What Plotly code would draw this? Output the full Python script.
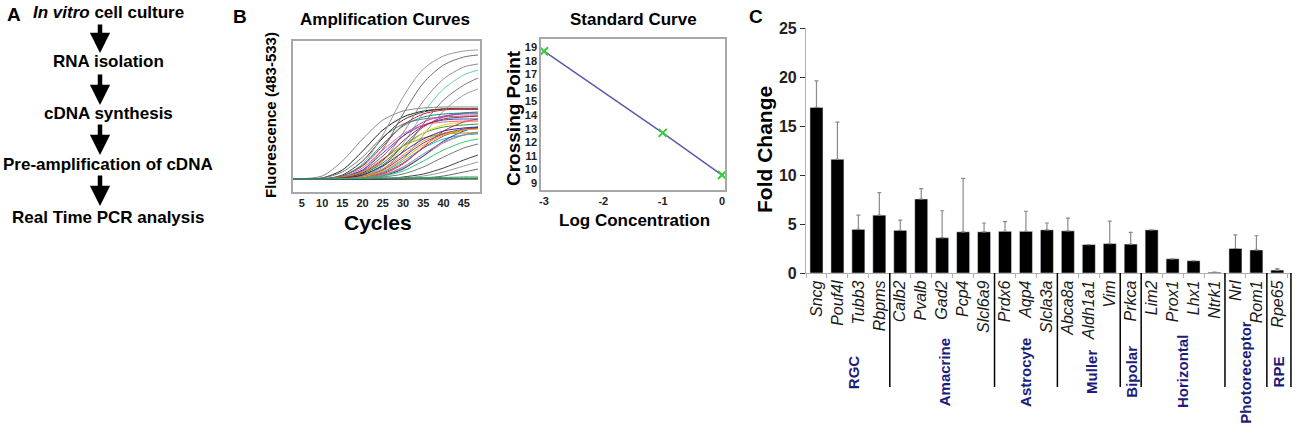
import plotly.graph_objects as go

W, H = 1300, 440
FONT = "Liberation Sans, Arial, sans-serif"
NAVY = "#1c1c7c"

# ---- panel A: workflow steps
steps = ["<i>In vitro</i> cell culture", "RNA isolation", "cDNA synthesis",
         "Pre-amplification of cDNA", "Real Time PCR analysis"]

# ---- panel B: amplification curves (fluorescence read at these cycles)
cycles = [3, 10, 15, 20, 25, 30, 35, 40, 45, 48.5]
amp_curves = [
    ("#8a8a8a", [0, 0.3, 1.8, 4.0, 5.9, 6.8, 7.1, 7.2, 7.2, 7.2]),
    ("#222222", [0, 0.1, 0.9, 2.8, 4.9, 6.2, 6.8, 7.0, 7.0, 7.0]),
    ("#777777", [0, 0.1, 0.7, 2.2, 4.2, 5.5, 6.0, 6.2, 6.3, 6.3]),
    ("#3a3a3a", [0, 0, 0.4, 1.8, 4.1, 5.9, 6.7, 7.0, 7.0, 7.0]),
    ("#999999", [0, 0, 0.3, 1.5, 4.4, 8.2, 11.0, 12.3, 12.8, 12.9]),
    ("#6f6f6f", [0, 0, 0.2, 0.9, 3.0, 6.5, 9.6, 11.4, 12.2, 12.4]),
    ("#8c8c8c", [0, 0, 0.1, 0.5, 1.8, 4.6, 7.8, 10.0, 11.2, 11.5]),
    ("#7a7a7a", [0, 0, 0, 0.3, 1.0, 2.8, 5.5, 7.9, 9.4, 10.1]),
    ("#9a9a9a", [0, 0, 0, 0.2, 0.7, 2.0, 4.4, 6.8, 8.4, 9.0]),
    ("#5fc9c9", [0, 0, 0, 0.3, 1.2, 3.5, 6.6, 9.0, 10.4, 10.9]),
    ("#d62728", [0, 0, 0.3, 1.3, 3.3, 5.4, 6.5, 6.9, 7.0, 7.0]),
    ("#cc33aa", [0, 0, 0.2, 0.8, 2.3, 4.3, 5.7, 6.3, 6.5, 6.5]),
    ("#3355cc", [0, 0, 0.2, 0.9, 2.6, 4.3, 5.4, 5.9, 6.0, 6.0]),
    ("#2ca02c", [0, 0, 0.1, 0.5, 1.6, 3.3, 4.6, 5.2, 5.4, 5.5]),
    ("#e6d619", [0, 0, 0.1, 0.4, 1.4, 3.0, 4.6, 5.4, 5.7, 5.8]),
    ("#ff8c1a", [0, 0, 0, 0.3, 1.0, 2.4, 3.8, 4.6, 4.9, 5.0]),
    ("#8e44ad", [0, 0, 0, 0.4, 1.4, 3.3, 5.2, 6.2, 6.6, 6.7]),
    ("#17becf", [0, 0, 0, 0.2, 0.7, 1.8, 3.1, 4.0, 4.4, 4.5]),
    ("#8c564b", [0, 0, 0, 0.2, 0.6, 1.6, 3.1, 4.3, 4.9, 5.1]),
    ("#e0245e", [0, 0, 0, 0.1, 0.5, 1.5, 3.2, 4.8, 5.7, 6.0]),
    ("#e377c2", [0, 0, 0, 0.1, 0.4, 1.1, 2.3, 3.6, 4.4, 4.6]),
    ("#1f3fa0", [0, 0, 0, 0.1, 0.3, 1.0, 2.3, 3.8, 4.8, 5.2]),
    ("#33cc66", [0, 0, 0, 0.1, 0.3, 0.8, 1.8, 2.9, 3.7, 4.0]),
    ("#138a8a", [0, 0, 0.3, 1.4, 3.5, 5.3, 6.2, 6.5, 6.6, 6.6]),
    ("#f06292", [0, 0, 0.2, 1.1, 2.9, 4.5, 5.4, 5.7, 5.8, 5.8]),
    ("#9a9a1a", [0, 0, 0.2, 0.7, 2.0, 3.3, 4.1, 4.5, 4.6, 4.6]),
    ("#2a2a8a", [0, 0, 0.1, 0.4, 1.3, 2.7, 4.0, 4.8, 5.1, 5.2]),
    ("#b22222", [0, 0, 0.1, 0.6, 1.9, 3.8, 5.3, 6.0, 6.2, 6.3]),
    ("#7b2fbe", [0, 0, 0, 0.2, 0.9, 2.2, 3.6, 4.5, 5.0, 5.1]),
    ("#ffb000", [0, 0, 0, 0.2, 0.8, 2.0, 3.4, 4.4, 4.9, 5.0]),
    ("#888888", [0, 0, 0, 0.1, 0.4, 1.2, 2.5, 3.7, 4.4, 4.7]),
    ("#777777", [0, 0, 0, 0, 0.2, 0.5, 1.2, 2.2, 3.1, 3.5]),
    ("#444444", [0, 0, 0, 0, 0, 0.2, 0.5, 1.1, 1.9, 2.4]),
    ("#999999", [0, 0, 0, 0, 0, 0.1, 0.3, 0.7, 1.3, 1.7]),
    ("#666666", [0, 0, 0, 0, 0, 0, 0.1, 0.3, 0.7, 1.0]),
    ("#2ca02c", [0, 0, 0.05, 0.1, 0.1, 0.1, 0.15, 0.15, 0.2, 0.2]),
    ("#ff7f0e", [0, 0, 0, 0.05, 0.05, 0.05, 0.05, 0.05, 0.05, 0.05]),
    ("#111111", [0, 0, 0, 0, 0, 0, 0, 0, 0, 0]),
    ("#20b2aa", [0, 0, 0.05, 0.05, 0.1, 0.1, 0.1, 0.1, 0.1, 0.1]),
]
cycle_ticks = [5, 10, 15, 20, 25, 30, 35, 40, 45]

# ---- panel B: standard curve
log_conc = [-3, -1, 0]
crossing_point = [18.7, 12.7, 9.6]
conc_ticks = [-3, -2, -1, 0]
conc_labels = ["-3", "-2", "-1", "0"]

# ---- panel C: fold change per gene
genes = ["Sncg", "Pouf4l", "Tubb3", "Rbpms", "Calb2", "Pvalb", "Gad2", "Pcp4",
         "Slcl6a9", "Prdx6", "Aqp4", "Slcla3a", "Abca8a", "Aldh1a1", "Vim",
         "Prkca", "Lim2", "Prox1", "Lhx1", "Ntrk1", "Nrl", "Rom1", "Rpe65"]
fold = [16.9, 11.6, 4.45, 5.9, 4.35, 7.55, 3.6, 4.2, 4.2, 4.25, 4.25, 4.4,
        4.3, 2.9, 3.0, 2.95, 4.4, 1.45, 1.25, 0.08, 2.5, 2.35, 0.3]
fold_err = [2.7, 3.8, 1.45, 2.3, 1.05, 1.05, 2.75, 5.45, 0.9, 1.0, 2.05, 0.7,
            1.3, 0, 2.3, 1.2, 0, 0, 0, 0, 1.4, 1.45, 0.15]
groups = ["RGC", "Amacrine", "Astrocyte", "Muller", "Bipolar", "Horizontal",
          "Photoreceptor", "RPE"]
group_pos = [1.75, 6.1, 9.95, 13.1, 15.0, 17.45, 20.45, 22.05]
group_breaks = [3.5, 8.5, 11.5, 14.5, 15.5, 19.5, 21.5, 22.65]


def px(x):
    return x / W


def py(y):
    return 1 - y / H


fig = go.Figure()

for color, vals in amp_curves:
    fig.add_trace(go.Scatter(x=cycles, y=vals, mode="lines", xaxis="x", yaxis="y",
                             line=dict(color=color, width=1, shape="spline", smoothing=0.8),
                             showlegend=False, hoverinfo="skip"))

fig.add_trace(go.Scatter(x=log_conc, y=crossing_point, mode="lines", xaxis="x2", yaxis="y2",
                         line=dict(color="#5a5ab0", width=1.5), showlegend=False))
fig.add_trace(go.Scatter(x=log_conc, y=crossing_point, mode="markers", xaxis="x2", yaxis="y2",
                         marker=dict(symbol="x-thin-open", size=8, color="#33cc33",
                                     line=dict(color="#33cc33", width=2)),
                         cliponaxis=False, showlegend=False))

fig.add_trace(go.Bar(x=genes, y=fold, xaxis="x3", yaxis="y3", marker_color="black",
                     width=0.62, showlegend=False,
                     error_y=dict(type="data", symmetric=False, array=fold_err,
                                  arrayminus=[0] * len(fold), color="#8a8a8a",
                                  thickness=1.2, width=2)))

box = dict(showline=True, mirror=True, linecolor="#a8a8a8", linewidth=1.5,
           showgrid=False, zeroline=False, automargin=False)
tickf = dict(family=FONT, size=11, color="#222", weight="bold")

fig.update_layout(
    width=W, height=H, margin=dict(l=0, r=0, t=0, b=0, autoexpand=False),
    paper_bgcolor="white", plot_bgcolor="white",
    font=dict(family=FONT, color="black"),
    xaxis=dict(domain=[px(293), px(480)], range=[2.8, 49], anchor="y",
               tickvals=cycle_ticks, ticks="", tickfont=tickf, **box),
    yaxis=dict(domain=[py(192), py(41)], range=[-1.3, 13.8], anchor="x",
               showticklabels=False, ticks="", **box),
    xaxis2=dict(domain=[px(541), px(725)], range=[-3.05, 0.05], anchor="y2",
                tickvals=conc_ticks, ticktext=conc_labels, ticks="", tickfont=tickf, **box),
    yaxis2=dict(domain=[py(190), py(39)], range=[8.5, 19.6], anchor="x2",
                dtick=1, ticks="", tickfont=tickf, **box),
    xaxis3=dict(domain=[px(806), px(1292)], range=[-0.5, 22.7], anchor="y3",
                type="category", tickangle=-90, showline=True, linecolor="#b0b0b0",
                linewidth=1.2, ticks="outside", tickson="boundaries", ticklen=4,
                tickcolor="#b0b0b0", showgrid=False, automargin=False,
                tickfont=dict(family=FONT, size=16, color="#1a1a1a", style="italic")),
    yaxis3=dict(domain=[py(273), py(28)], range=[0, 25], anchor="x3",
                dtick=5, showline=True, linecolor="#b0b0b0", linewidth=1.2,
                ticks="outside", ticklen=5, tickcolor="#333", showgrid=False,
                zeroline=False, automargin=False,
                tickfont=dict(family=FONT, size=16, color="#222", weight="bold")),
    bargap=0.38,
)

ann = []


def text(x, y, s, size, angle=0, color="black", bold=True, xanchor="center"):
    ann.append(dict(x=px(x), y=py(y), xref="paper", yref="paper", text=s, showarrow=False,
                    textangle=angle, xanchor=xanchor, yanchor="middle",
                    font=dict(family=FONT, size=size, color=color,
                              weight="bold" if bold else "normal")))


# panel letters
text(14, 15, "A", 19)
text(240, 16, "B", 19)
text(756, 17, "C", 19)

# panel A flow chart
step_y = [13, 61, 113, 164, 217]
for s, y in zip(steps, step_y):
    text(108, y, s, 17)
arrows = [(23, 53), (73, 105), (123, 155), (174, 206)]
for y0, y1 in arrows:
    ann.append(dict(x=px(100), y=py(y1), xref="paper", yref="paper", ax=0, ay=y0 - y1,
                    showarrow=True, arrowhead=2, arrowsize=0.9, arrowwidth=4.5,
                    arrowcolor="black", text=""))

# panel B titles
text(385, 20, "Amplification Curves", 17)
text(270, 115, "Fluorescence (483-533)", 15, angle=-90)
text(378, 222, "Cycles", 21)
text(633, 20, "Standard Curve", 17)
text(513, 118, "Crossing Point", 19, angle=-90)
text(634, 220, "Log Concentration", 17)

# panel C
text(765, 150, "Fold Change", 21, angle=-90)
for g, pos in zip(groups, group_pos):
    ann.append(dict(x=pos, y=py(372), xref="x3", yref="paper", text=g, showarrow=False,
                    textangle=-90, xanchor="center", yanchor="middle",
                    font=dict(family=FONT, size=15, color=NAVY, weight="bold")))

shapes = []
for b in group_breaks:
    shapes.append(dict(type="line", xref="x3", yref="paper", x0=b, x1=b,
                       y0=py(273), y1=py(387), line=dict(color="black", width=1.5)))

fig.update_layout(annotations=ann, shapes=shapes)
fig.write_html("out.html", config={"displayModeBar": False},
               post_script="document.body.style.margin='0';")
